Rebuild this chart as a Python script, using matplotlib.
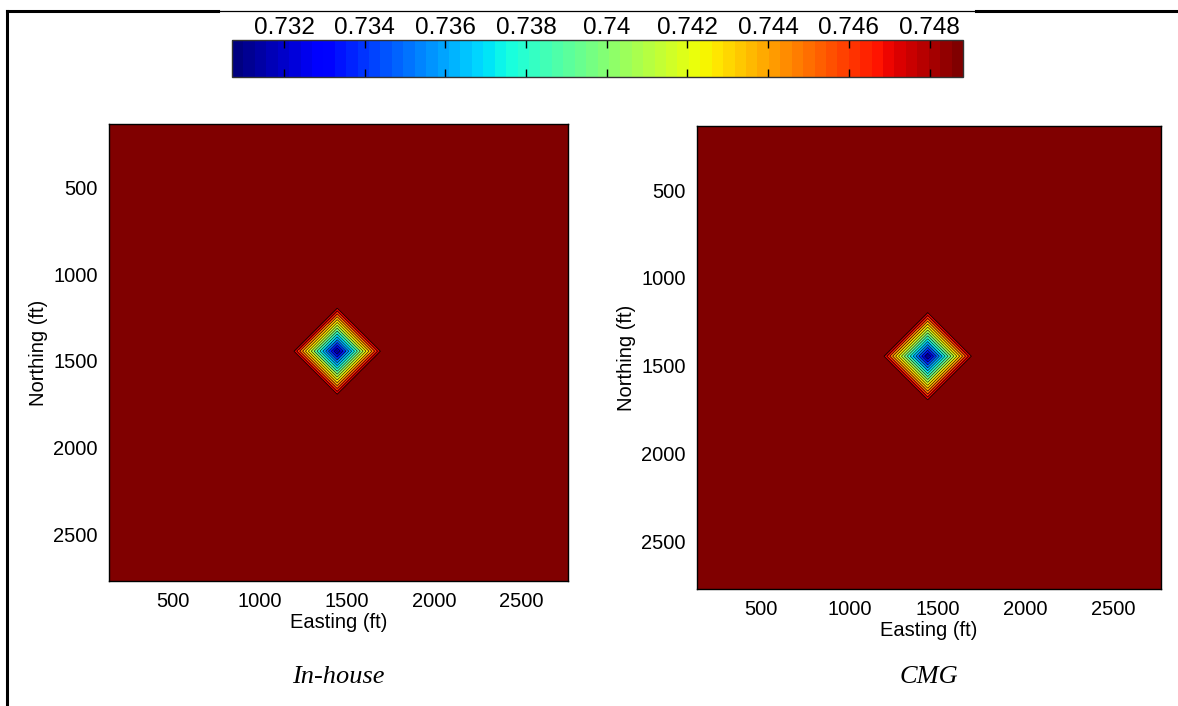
import numpy as np
import matplotlib
matplotlib.use("Agg")
import matplotlib.pyplot as plt
from matplotlib.colors import Normalize
from matplotlib.cm import ScalarMappable
from matplotlib.lines import Line2D

plt.rcParams['font.family'] = ['Liberation Sans', 'DejaVu Sans']

# grid nodes (ft) and porosity values
easting_nodes = [135, 1180, 1445, 1710, 2770]
northing_nodes = [135, 1180, 1445, 1710, 2770]
background_value = 0.74883
center_value = 0.73071

panel_titles = ["In-house", "CMG"]
cbar_ticks = [0.732, 0.734, 0.736, 0.738, 0.74, 0.742, 0.744, 0.746, 0.748]
axis_ticks = [500, 1000, 1500, 2000, 2500]

# both simulators give the same field here
field = np.full((len(northing_nodes), len(easting_nodes)), background_value)
field[2, 2] = center_value
fields = [field, field.copy()]

vmin, vmax = center_value, background_value
cmap = plt.get_cmap('jet', 64)
norm = Normalize(vmin=vmin, vmax=vmax)
levels = np.linspace(vmin, vmax, 17)[:-1]

fig = plt.figure(figsize=(11.78, 7.06), dpi=100)

W, H = 1178.0, 706.0
panel_boxes = [(109, 124, 568, 581), (697, 126, 1161, 589)]

for box, data, title in zip(panel_boxes, fields, panel_titles):
    x0, y0, x1, y1 = box
    ax = fig.add_axes([x0 / W, 1 - y1 / H, (x1 - x0) / W, (y1 - y0) / H])
    ax.set_facecolor(cmap(1.0))
    X, Y = np.meshgrid(easting_nodes, northing_nodes)
    ax.contourf(X, Y, data, levels=levels, cmap=cmap, norm=norm, extend='max')
    ax.contour(X, Y, data, levels=levels, colors='k', linewidths=0.4)
    ax.set_xlim(easting_nodes[0], easting_nodes[-1])
    ax.set_ylim(northing_nodes[-1], northing_nodes[0])
    ax.set_xticks(axis_ticks)
    ax.set_yticks(axis_ticks)
    ax.tick_params(length=0, labelsize=14.5, pad=8)
    ax.set_xlabel("Easting (ft)", fontsize=14.5, labelpad=1)
    ax.set_ylabel("Northing (ft)", fontsize=14.5, labelpad=4)
    for sp in ax.spines.values():
        sp.set_linewidth(1.0)
    cx = (x0 + x1) / 2 / W
    fig.text(cx, 1 - 677 / H, title, ha='center', va='center',
             family=['Liberation Serif', 'DejaVu Serif'], style='italic', fontsize=19)

# colorbar on top
cax = fig.add_axes([232 / W, 1 - 77 / H, 731 / W, 37 / H])
cb = fig.colorbar(ScalarMappable(norm=norm, cmap=cmap), cax=cax, orientation='horizontal')
cb.set_ticks(cbar_ticks)
cb.set_ticklabels([f"{t:g}" for t in cbar_ticks])
cax.xaxis.set_ticks_position('both')
cax.tick_params(axis='x', direction='in', length=6, width=1, color='k',
                labeltop=True, labelbottom=False, labelsize=17.5, pad=1)
cb.outline.set_edgecolor('#333333')
cb.outline.set_linewidth(1.0)

# table cell border lines
fig.add_artist(Line2D([7 / W, 7 / W], [0, 1 - 11 / H], color='k', lw=2.2))
fig.add_artist(Line2D([7 / W, 218 / W], [1 - 11 / H, 1 - 11 / H], color='k', lw=2.2))
fig.add_artist(Line2D([218 / W, 976 / W], [1 - 10.5 / H, 1 - 10.5 / H], color='k', lw=0.9))
fig.add_artist(Line2D([976 / W, 1.0], [1 - 11 / H, 1 - 11 / H], color='k', lw=2.2))

fig.savefig("out.png", dpi=100)
